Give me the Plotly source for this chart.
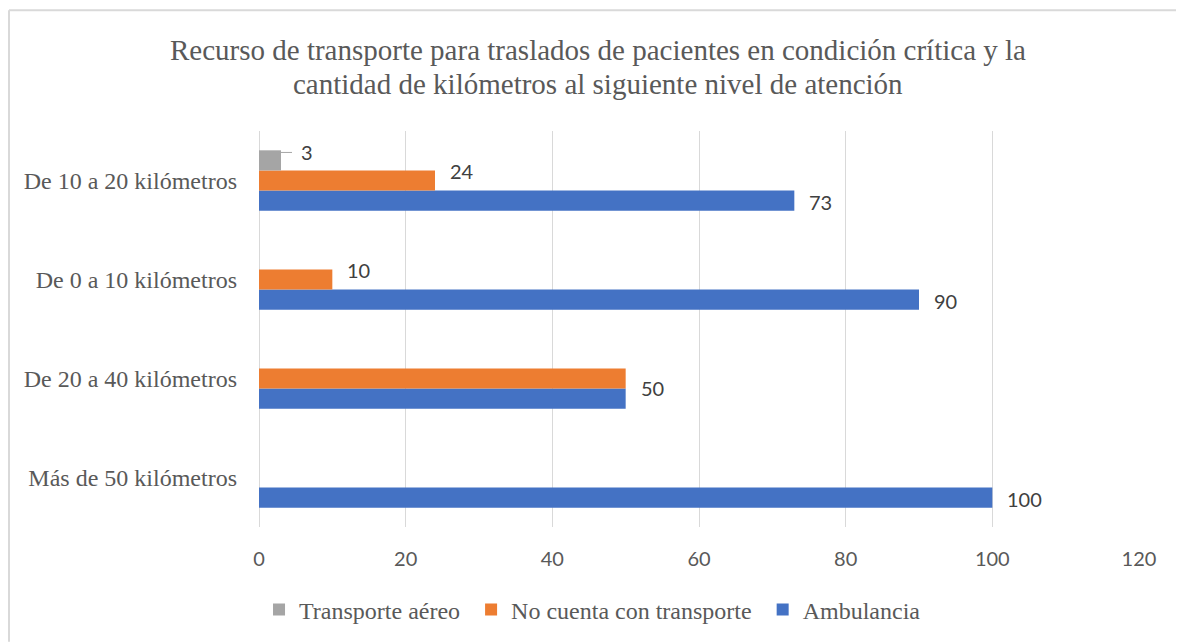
import plotly.graph_objects as go

categories = ["Más de 50 kilómetros", "De 20 a 40 kilómetros", "De 0 a 10 kilómetros", "De 10 a 20 kilómetros"]
ambulancia = [100, 50, 90, 73]
no_cuenta = [None, 50, 10, 24]
aereo = [None, None, None, 3]
x_ticks = [0, 20, 40, 60, 80, 100, 120]
title_lines = ["Recurso de transporte para traslados de pacientes en condición crítica y la",
               "cantidad de kilómetros al siguiente nivel de atención"]

BLUE = "#4472C4"
ORANGE = "#ED7D31"
GRAY = "#A5A5A5"
TXT = "#595959"
LBL = "#404040"
SERIF = "Liberation Serif"
SANS = "Lato"
lbl_font = dict(family=SANS, size=20, color=LBL)
NB = "\u00a0"

# page has an 8px body margin; figure is sized so the plot lands at the reference position
W, H = 1176, 635
ML, MR, MT, MB = 251, 45, 123, 115
PW, PH = W - ML - MR, H - MT - MB

fig = go.Figure()
fig.add_trace(go.Bar(y=categories, x=ambulancia, orientation="h", name="Ambulancia",
                     marker=dict(color=BLUE, line=dict(width=0))))
fig.add_trace(go.Bar(y=categories, x=no_cuenta, orientation="h", name="No cuenta con transporte" + NB,
                     marker=dict(color=ORANGE, line=dict(width=0))))
fig.add_trace(go.Bar(y=categories, x=aereo, orientation="h", name="Transporte aéreo" + NB,
                     marker=dict(color=GRAY, line=dict(width=0))))

bargap = 0.39
bw = (1 - bargap) / 3

# data labels
for i, (a, n) in enumerate(zip(ambulancia, no_cuenta)):
    same = n is not None and n == a
    if a is not None:
        fig.add_annotation(x=a, y=i - bw, text=str(a), showarrow=False, xanchor="left",
                           xshift=13, yshift=11 if same else -1, font=lbl_font)
    if n is not None and not same:
        fig.add_annotation(x=n, y=i, text=str(n), showarrow=False, xanchor="left",
                           xshift=13, yshift=10, font=lbl_font)
for i, v in enumerate(aereo):
    if v is not None:
        fig.add_annotation(x=v, y=i + bw + 0.08, xref="x", yref="y", text=str(v),
                           showarrow=True, arrowhead=0, arrowwidth=1, arrowcolor=GRAY,
                           ax=11, ay=0, xanchor="left", standoff=0, borderpad=8,
                           font=lbl_font)

# title, two lines
title_x = (589.5 - ML) / PW
for k, (line, yc) in enumerate(zip(title_lines, [42, 76])):
    fig.add_annotation(text=line, xref="paper", yref="paper", x=title_x, y=1 + (MT - yc) / PH,
                       xanchor="center", yanchor="middle", showarrow=False,
                       font=dict(family=SERIF, size=29, color=TXT))

fig.update_layout(
    width=W, height=H,
    margin=dict(l=ML, r=MR, t=MT, b=MB),
    paper_bgcolor="white", plot_bgcolor="white",
    barmode="group", bargap=bargap, bargroupgap=0,
    xaxis=dict(range=[0, 120], tickvals=x_ticks, showgrid=True, gridcolor="#D9D9D9", gridwidth=1,
               zeroline=True, zerolinecolor="#D9D9D9", zerolinewidth=1, showline=False, ticks="",
               tickfont=dict(family=SANS, size=20, color=TXT), ticklabelstandoff=18),
    yaxis=dict(type="category", categoryorder="array", categoryarray=categories, range=[-0.5, 3.5],
               showgrid=False, showline=False, ticks="", zeroline=False,
               tickfont=dict(family=SERIF, size=24, color=TXT), ticklabelstandoff=21),
    legend=dict(orientation="h", x=0.379, xanchor="center", y=-0.2065, yanchor="middle", traceorder="reversed",
                font=dict(family=SERIF, size=24, color=TXT), itemwidth=30),
    showlegend=True,
)

# chart border (top and left edges visible)
x_left = -(ML - 1) / PW
y_top = 1 + (MT - 2) / PH
fig.add_shape(type="line", xref="paper", yref="paper", x0=x_left, x1=(W - ML) / PW, y0=y_top, y1=y_top,
              line=dict(color="#D9D9D9", width=2), layer="below")
fig.add_shape(type="line", xref="paper", yref="paper", x0=x_left, x1=x_left, y0=-MB / PH, y1=y_top,
              line=dict(color="#D9D9D9", width=2), layer="below")

fig.write_html("out.html")
